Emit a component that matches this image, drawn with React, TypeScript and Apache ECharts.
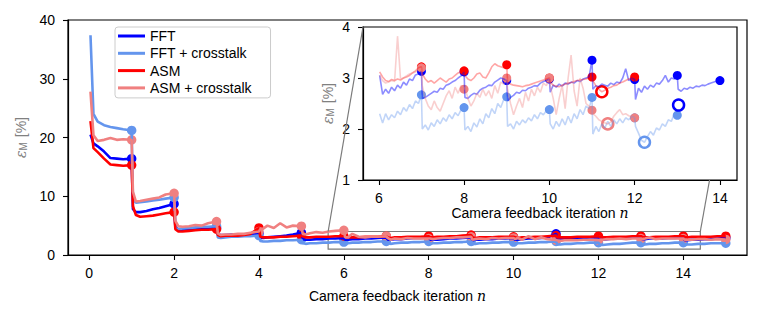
import React, { useEffect, useRef } from 'react';
import * as echarts from 'echarts';

const FONT = "'Liberation Sans', Arial, sans-serif";
const SERIF = "'DejaVu Serif', 'Liberation Serif', serif";

const SERIES_NAMES = ['FFT', 'FFT + crosstalk', 'ASM', 'ASM + crosstalk'];
const COLORS = ['#0000ff', '#6495ed', '#ff0000', '#f08080'];
const INSET_LINE_COLORS = ['rgba(0,0,255,0.45)', 'rgba(100,149,237,0.4)', 'rgba(255,0,0,0.35)', 'rgba(240,128,128,0.38)'];

const MAIN_X_TICKS = [0, 2, 4, 6, 8, 10, 12, 14];
const MAIN_X_RANGE = [-0.5, 15.5];
const MAIN_Y_RANGE = [0, 40];
const MAIN_Y_STEP = 10;
const INSET_X_TICKS = [6, 8, 10, 12, 14];
const INSET_X_RANGE = [5.63, 14.4];
const INSET_Y_RANGE = [1, 4];
const INSET_Y_STEP = 1;

// sample positions inside each feedback iteration (main plot)
const MAIN_OFFSETS = [0.03, 0.1, 0.2, 0.35, 0.5, 0.65, 0.8, 1.0];
const MAIN_START = 0;

const FFT_MAIN = [
  [20.5, 19.0, 18.5, 17.6, 16.5, 16.4, 16.3, 16.4],
  [7.8, 7.3, 7.3, 7.5, 7.8, 8.0, 8.3, 8.7],
  [4.8, 4.3, 4.3, 4.4, 4.4, 4.5, 4.5, 4.6],
  [3.5, 3.4, 3.4, 3.5, 3.5, 3.5, 3.6, 3.7],
  [3.0, 2.9, 3.0, 3.1, 3.2, 3.3, 3.5, 3.8],
  [2.7, 2.6, 2.6, 2.7, 2.7, 2.8, 2.8, 2.9],
  [2.6, 2.6, 2.7, 2.7, 2.8, 2.8, 2.9, 3.0],
  [2.6, 2.6, 2.7, 2.7, 2.8, 2.9, 2.9, 3.0],
  [2.6, 2.6, 2.6, 2.7, 2.8, 2.8, 2.9, 3.0],
  [2.5, 2.6, 2.6, 2.7, 2.7, 2.8, 2.8, 2.9],
  [2.6, 2.6, 2.7, 2.8, 2.8, 2.9, 3.0, 3.6],
  [2.7, 2.7, 2.8, 2.8, 2.9, 2.9, 3.0, 3.0],
  [2.6, 2.6, 2.7, 2.8, 2.8, 2.9, 3.0, 3.1],
  [2.7, 2.7, 2.8, 2.8, 2.8, 2.9, 2.9, 3.0],
  [2.5, 2.5, 2.6, 2.6, 2.7, 2.7, 2.8, 2.9],
];
const FFTC_MAIN = [
  [37.4, 24.0, 22.7, 22.1, 21.8, 21.6, 21.4, 21.2],
  [9.5, 8.9, 9.0, 9.1, 9.3, 9.4, 9.6, 9.8],
  [4.6, 4.4, 4.5, 4.6, 4.7, 4.8, 4.8, 4.9],
  [3.0, 2.9, 3.0, 3.1, 3.1, 3.2, 3.2, 3.3],
  [2.4, 2.3, 2.3, 2.4, 2.4, 2.5, 2.5, 2.6],
  [2.0, 1.9, 2.0, 2.0, 2.1, 2.1, 2.2, 2.2],
  [2.0, 2.0, 2.1, 2.1, 2.2, 2.2, 2.3, 2.3],
  [2.0, 1.9, 2.0, 2.1, 2.1, 2.2, 2.2, 2.3],
  [1.9, 2.0, 2.0, 2.1, 2.1, 2.2, 2.2, 2.3],
  [1.9, 1.9, 2.0, 2.0, 2.1, 2.1, 2.2, 2.2],
  [1.9, 2.0, 2.0, 2.1, 2.1, 2.2, 2.2, 2.3],
  [1.8, 1.8, 1.9, 1.9, 2.0, 2.0, 2.1, 2.1],
  [1.8, 1.7, 1.8, 1.9, 1.9, 2.0, 2.1, 2.1],
  [1.8, 1.8, 1.9, 1.9, 2.0, 2.0, 2.1, 2.1],
  [1.8, 1.8, 1.8, 1.9, 1.9, 2.0, 2.0, 2.0],
];
const ASM_MAIN = [
  [22.8, 18.2, 17.5, 16.4, 15.4, 15.3, 15.2, 15.3],
  [8.3, 6.8, 6.5, 6.6, 6.7, 6.9, 7.1, 7.3],
  [4.4, 4.0, 4.0, 4.1, 4.2, 4.3, 4.3, 4.4],
  [3.4, 3.2, 3.3, 3.3, 3.3, 3.4, 3.6, 4.6],
  [3.1, 3.0, 3.0, 3.0, 3.1, 3.1, 3.2, 3.3],
  [3.2, 3.0, 3.0, 3.1, 3.1, 3.1, 3.2, 3.2],
  [3.1, 3.0, 3.0, 3.0, 3.1, 3.1, 3.1, 3.2],
  [3.0, 2.9, 3.0, 3.0, 3.1, 3.1, 3.1, 3.2],
  [3.0, 3.0, 3.1, 3.1, 3.2, 3.2, 3.3, 3.4],
  [3.0, 2.9, 3.0, 3.0, 3.0, 3.1, 3.1, 3.1],
  [3.0, 2.9, 3.0, 3.0, 3.1, 3.1, 3.2, 3.3],
  [3.0, 3.0, 3.0, 3.0, 3.1, 3.1, 3.1, 3.2],
  [3.1, 3.0, 3.0, 3.1, 3.1, 3.1, 3.2, 3.2],
  [3.1, 3.0, 3.0, 3.1, 3.1, 3.1, 3.2, 3.2],
  [3.1, 3.0, 3.1, 3.1, 3.1, 3.1, 3.2, 3.2],
];
const ASMC_MAIN = [
  [27.8, 20.4, 19.4, 19.6, 19.9, 19.6, 19.7, 19.6],
  [10.8, 9.1, 9.2, 9.4, 9.6, 9.8, 10.3, 10.5],
  [5.8, 4.9, 4.8, 4.9, 5.1, 5.0, 5.4, 5.7],
  [3.7, 3.4, 3.5, 3.5, 3.6, 3.6, 3.8, 4.0],
  [4.4, 4.5, 5.0, 4.6, 5.4, 4.7, 5.0, 4.9],
  [3.6, 3.5, 3.7, 3.9, 3.8, 4.0, 4.1, 4.2],
  [3.0, 3.0, 3.6, 3.1, 3.0, 3.1, 3.1, 3.2],
  [2.9, 2.6, 2.8, 2.7, 2.9, 2.8, 2.8, 2.8],
  [2.8, 2.7, 2.8, 2.9, 2.9, 3.0, 3.0, 3.1],
  [2.6, 2.7, 2.8, 2.7, 2.9, 2.8, 2.9, 2.9],
  [2.7, 2.9, 2.6, 3.2, 2.7, 3.0, 2.7, 2.55],
  [2.5, 2.4, 2.5, 2.5, 2.5, 2.6, 2.6, 2.55],
  [2.6, 2.6, 2.7, 2.7, 2.8, 2.7, 2.8, 2.8],
  [2.7, 2.8, 3.0, 2.7, 2.8, 2.8, 2.8, 2.8],
  [2.6, 2.6, 2.6, 2.7, 2.7, 2.6, 2.7, 2.65],
];

// inset (zoom on iterations 6..14)
const INSET_OFFSETS = [0.02, 0.09, 0.16, 0.23, 0.3, 0.37, 0.44, 0.51, 0.58, 0.65, 0.72, 0.79, 0.86, 0.93, 1.0];
const INSET_START = 6;

const FFT_INSET = [
  [3.05, 2.68, 2.78, 2.7, 2.82, 2.75, 2.86, 2.8, 2.92, 2.86, 2.98, 2.95, 3.06, 3.08, 3.13],
  [2.6, 2.62, 2.66, 2.7, 2.74, 2.72, 2.8, 2.78, 2.86, 2.88, 2.92, 2.95, 3.0, 3.04, 3.12],
  [2.62, 2.6, 2.66, 2.7, 2.68, 2.76, 2.8, 2.82, 2.86, 2.85, 2.92, 2.96, 3.0, 2.98, 2.95],
  [2.55, 2.62, 2.66, 2.72, 2.7, 2.76, 2.75, 2.8, 2.82, 2.85, 2.84, 2.9, 2.93, 2.95, 2.98],
  [2.72, 2.86, 2.82, 2.88, 2.84, 2.9, 2.88, 2.92, 2.9, 2.95, 2.93, 2.98, 3.0, 3.02, 3.35],
  [2.78, 2.85, 2.83, 2.88, 2.86, 2.84, 2.9, 2.87, 2.92, 2.9, 3.0, 3.18, 2.95, 3.0, 2.97],
  [2.58, 2.8, 2.72, 2.84, 2.78, 2.86, 2.82, 2.9, 2.88, 2.95, 3.05, 2.92, 3.0, 2.98, 3.05],
  [2.78, 2.74, 2.8, 2.78, 2.82, 2.8, 2.84, 2.83, 2.86, 2.85, 2.88, 2.9, 2.92, 2.94, 2.95],
];
const FFTC_INSET = [
  [2.3, 2.12, 2.3, 2.18, 2.28, 2.22, 2.35, 2.28, 2.42, 2.35, 2.48, 2.4, 2.55, 2.5, 2.67],
  [2.0, 2.08, 1.98, 2.12, 2.05, 2.18, 2.1, 2.22, 2.15, 2.28, 2.2, 2.32, 2.26, 2.38, 2.42],
  [1.98, 2.05, 1.95, 2.12, 2.04, 2.2, 2.1, 2.3, 2.22, 2.4, 2.3, 2.5, 2.42, 2.58, 2.63],
  [2.05, 2.1, 2.0, 2.15, 2.08, 2.18, 2.12, 2.22, 2.16, 2.28, 2.2, 2.32, 2.28, 2.36, 2.38],
  [2.1, 2.0, 2.15, 2.05, 2.2, 2.08, 2.25, 2.12, 2.3, 2.2, 2.38, 2.28, 2.45, 2.4, 2.62],
  [1.9, 2.05, 1.95, 2.1, 2.02, 2.15, 2.05, 2.18, 2.1, 2.2, 2.12, 2.22, 2.18, 2.25, 2.22],
  [2.05, 1.92, 1.78, 1.74, 1.85, 1.95, 1.88, 2.02, 1.98, 2.1, 2.05, 2.18, 2.15, 2.3, 2.27],
];
const ASM_INSET = [
  [3.12, 3.02, 2.95, 2.93, 2.97, 2.95, 2.98, 2.96, 3.0, 3.02, 3.05, 3.1, 3.14, 3.2, 3.22],
  [3.08, 2.98, 2.92, 2.95, 2.9, 2.95, 3.0, 2.96, 2.92, 2.98, 3.0, 3.05, 3.1, 3.12, 3.14],
  [3.05, 2.98, 2.95, 3.0, 3.08, 3.1, 3.02, 3.0, 3.1, 3.22, 3.28, 3.24, 3.22, 3.2, 3.26],
  [2.92, 2.88, 2.86, 2.85, 2.84, 2.83, 2.85, 2.86, 2.88, 2.9, 2.92, 2.94, 2.96, 2.98, 3.0],
  [2.92, 2.86, 2.84, 2.83, 2.86, 2.88, 2.9, 2.91, 2.93, 2.95, 2.96, 2.97, 2.98, 3.0, 3.02],
  [2.95, 2.85, 2.78, 2.73, 2.76, 2.8, 2.82, 2.85, 2.86, 2.9, 2.92, 2.95, 2.98, 3.0, 3.02],
];
const ASMC_INSET = [
  [3.05, 2.95, 2.9, 2.92, 2.95, 2.93, 3.82, 2.98, 3.0, 3.04, 3.08, 3.1, 3.12, 3.16, 3.2],
  [2.85, 2.6, 2.45, 2.38, 2.55, 2.42, 2.35, 2.5, 2.65, 2.75, 2.6, 2.82, 2.7, 2.85, 2.78],
  [2.82, 2.6, 2.45, 2.55, 2.7, 2.62, 2.78, 2.65, 2.75, 2.6, 2.85, 2.7, 2.92, 2.88, 3.0],
  [2.78, 2.5, 2.28, 2.45, 2.6, 2.42, 2.72, 2.55, 2.78, 2.65, 2.82, 2.72, 2.9, 2.85, 3.0],
  [2.85, 2.6, 2.28, 2.6, 2.86, 2.4, 3.0, 3.45, 2.75, 2.45, 3.0, 2.8, 2.5, 2.45, 2.37],
  [2.3, 2.25, 2.18, 2.15, 2.12, 2.1, 2.14, 2.25, 2.32, 2.38, 2.28, 2.3, 2.26, 2.24, 2.22],
];

// best (minimum) points marked with open circles in the inset
const FFT_BEST = [13.03, 2.47];
const FFTC_BEST = [12.23, 1.74];
const ASM_BEST = [11.23, 2.73];
const ASMC_BEST = [11.37, 2.1];

const MAIN_SETS = [FFT_MAIN, FFTC_MAIN, ASM_MAIN, ASMC_MAIN];
const INSET_SETS = [FFT_INSET, FFTC_INSET, ASM_INSET, ASMC_INSET];
const BEST_SETS = [FFT_BEST, FFTC_BEST, ASM_BEST, ASMC_BEST];

function buildLine(segs: number[][], offs: number[], start: number) {
  const out: number[][] = [];
  segs.forEach((seg, k) => seg.forEach((v, j) => out.push([start + k + offs[j], v])));
  return out;
}
function buildEnds(segs: number[][], start: number) {
  return segs.map((seg, k) => [start + k + 1, seg[seg.length - 1]]);
}

const tickLabel = { fontFamily: FONT, fontSize: 14, color: '#000' };
const yName = '{e|ε}{m|M} [%]';
const yNameStyle = {
  color: '#808080', fontFamily: FONT, fontSize: 14,
  rich: {
    e: { fontFamily: SERIF, fontStyle: 'italic', fontSize: 14, color: '#808080' },
    m: { fontFamily: FONT, fontSize: 10, color: '#808080', padding: [5, 1, 0, 0] },
  },
};
const xName = 'Camera feedback iteration {n|n}';
const xNameStyle = {
  color: '#000', fontFamily: FONT, fontSize: 14, padding: [0, 20, 0, 0],
  rich: { n: { fontFamily: SERIF, fontStyle: 'italic', fontSize: 14, color: '#000' } },
};
const axisLine = { show: true, onZero: false, lineStyle: { color: '#000', width: 1.2 } };

export default function App() {
  const ref = useRef<HTMLDivElement>(null);
  useEffect(() => {
    if (!ref.current) return;
    const chart = echarts.init(ref.current, undefined, { renderer: 'svg' });
    const series: any[] = [];
    MAIN_SETS.forEach((segs, i) => {
      series.push({
        type: 'line', name: SERIES_NAMES[i], xAxisIndex: 0, yAxisIndex: 0,
        data: buildLine(segs, MAIN_OFFSETS, MAIN_START), showSymbol: false, symbol: 'none',
        color: COLORS[i], lineStyle: { width: 2.6, color: COLORS[i] }, itemStyle: { color: COLORS[i] },
        clip: true, silent: true,
        ...(i === 0 ? {
          markArea: {
            silent: true,
            itemStyle: { color: 'rgba(0,0,0,0)', borderColor: '#7a7a7a', borderWidth: 1.2 },
            data: [[{ coord: [INSET_X_RANGE[0], INSET_Y_RANGE[0]] }, { coord: [INSET_X_RANGE[1], INSET_Y_RANGE[1]] }]],
          },
        } : {}),
      });
      series.push({
        type: 'scatter', name: SERIES_NAMES[i] + ' end', xAxisIndex: 0, yAxisIndex: 0,
        data: buildEnds(segs, MAIN_START), symbolSize: 9.5, itemStyle: { color: COLORS[i], opacity: 1 }, silent: true,
      });
    });
    INSET_SETS.forEach((segs, i) => {
      series.push({
        type: 'line', name: SERIES_NAMES[i] + ' inset', xAxisIndex: 1, yAxisIndex: 1,
        data: buildLine(segs, INSET_OFFSETS, INSET_START), showSymbol: false, symbol: 'none',
        lineStyle: { width: 1.6, color: INSET_LINE_COLORS[i] }, clip: true, silent: true,
      });
    });
    INSET_SETS.forEach((segs, i) => {
      series.push({
        type: 'scatter', name: SERIES_NAMES[i] + ' inset end', xAxisIndex: 1, yAxisIndex: 1,
        data: buildEnds(segs, INSET_START), symbolSize: 9, itemStyle: { color: COLORS[i], opacity: 1 }, silent: true,
      });
    });
    BEST_SETS.forEach((pt, i) => {
      series.push({
        type: 'scatter', name: SERIES_NAMES[i] + ' best', xAxisIndex: 1, yAxisIndex: 1,
        data: [pt], symbolSize: 11, itemStyle: { color: '#fff', borderColor: COLORS[i], borderWidth: 2.5, opacity: 1 }, silent: true,
      });
    });

    chart.setOption({
      animation: false,
      backgroundColor: '#fff',
      legend: {
        data: SERIES_NAMES.map((n) => ({ name: n, icon: 'rect' })),
        orient: 'vertical', left: 115, top: 27,
        itemWidth: 27, itemHeight: 3, itemGap: 3.3,
        padding: [2, 19, 3, 3],
        backgroundColor: 'rgba(255,255,255,0.8)', borderColor: '#cccccc', borderWidth: 1, borderRadius: 3,
        textStyle: { fontFamily: FONT, fontSize: 14, color: '#000', lineHeight: 14 },
        selectedMode: false,
      },
      grid: [
        { left: 68, top: 20, right: 15, bottom: 63, show: true, borderColor: '#000', borderWidth: 1.2, backgroundColor: 'transparent', outerBoundsMode: 'none', containLabel: false },
        { left: 363, top: 27, right: 25, bottom: 138, show: true, borderColor: '#000', borderWidth: 1.2, backgroundColor: '#fff', outerBoundsMode: 'none', containLabel: false },
      ],
      xAxis: [
        {
          type: 'value', gridIndex: 0, min: MAIN_X_RANGE[0], max: MAIN_X_RANGE[1],
          axisLine, splitLine: { show: false },
          axisTick: { show: true, inside: false, length: 5, customValues: MAIN_X_TICKS, lineStyle: { color: '#000', width: 1.1 } },
          axisLabel: { ...tickLabel, customValues: MAIN_X_TICKS, margin: 11 },
          name: xName, nameLocation: 'middle', nameGap: 34, nameTextStyle: xNameStyle,
        },
        {
          type: 'value', gridIndex: 1, min: INSET_X_RANGE[0], max: INSET_X_RANGE[1],
          axisLine, splitLine: { show: false },
          axisTick: { show: true, inside: false, length: 5, customValues: INSET_X_TICKS, lineStyle: { color: '#000', width: 1.1 } },
          axisLabel: { ...tickLabel, customValues: INSET_X_TICKS, margin: 11 },
          name: xName, nameLocation: 'middle', nameGap: 25, nameTextStyle: xNameStyle,
        },
      ],
      yAxis: [
        {
          type: 'value', gridIndex: 0, min: MAIN_Y_RANGE[0], max: MAIN_Y_RANGE[1], interval: MAIN_Y_STEP,
          axisLine, splitLine: { show: false },
          axisTick: { show: true, inside: false, length: 5, lineStyle: { color: '#000', width: 1.1 } },
          axisLabel: { ...tickLabel, margin: 13 },
          name: yName, nameLocation: 'middle', nameGap: 37, nameTextStyle: yNameStyle,
        },
        {
          type: 'value', gridIndex: 1, min: INSET_Y_RANGE[0], max: INSET_Y_RANGE[1], interval: INSET_Y_STEP,
          axisLine, splitLine: { show: false },
          axisTick: { show: true, inside: false, length: 5, lineStyle: { color: '#000', width: 1.1 } },
          axisLabel: { ...tickLabel, margin: 13 },
          name: yName, nameLocation: 'middle', nameGap: 28, nameTextStyle: yNameStyle,
        },
      ],
      series,
    });

    // connector lines between the zoom rectangle and the inset (matplotlib mark_inset style)
    const pL = chart.convertToPixel({ gridIndex: 0 }, [INSET_X_RANGE[0], INSET_Y_RANGE[1]]) as number[];
    const qL = chart.convertToPixel({ gridIndex: 1 }, [INSET_X_RANGE[0], INSET_Y_RANGE[1]]) as number[];
    const pR = chart.convertToPixel({ gridIndex: 0 }, [INSET_X_RANGE[1], INSET_Y_RANGE[1]]) as number[];
    const qR = chart.convertToPixel({ gridIndex: 1 }, [INSET_X_RANGE[1], INSET_Y_RANGE[1]]) as number[];
    const yb = (chart.convertToPixel({ gridIndex: 1 }, [INSET_X_RANGE[1], INSET_Y_RANGE[0]]) as number[])[1];
    const t = (pR[1] - yb) / (pR[1] - qR[1]);
    const rEnd = [pR[0] + t * (qR[0] - pR[0]), yb];
    const lineStyle = { stroke: '#7a7a7a', lineWidth: 1.2 };
    chart.setOption({
      graphic: [
        { type: 'line', z: 50, silent: true, shape: { x1: pL[0], y1: pL[1], x2: qL[0], y2: qL[1] }, style: lineStyle },
        { type: 'line', z: 50, silent: true, shape: { x1: pR[0], y1: pR[1], x2: rEnd[0], y2: rEnd[1] }, style: lineStyle },
      ],
    });

    return () => chart.dispose();
  }, []);
  return <div ref={ref} style={{ position: 'absolute', left: 0, top: 0, width: 762, height: 318 }} />;
}
